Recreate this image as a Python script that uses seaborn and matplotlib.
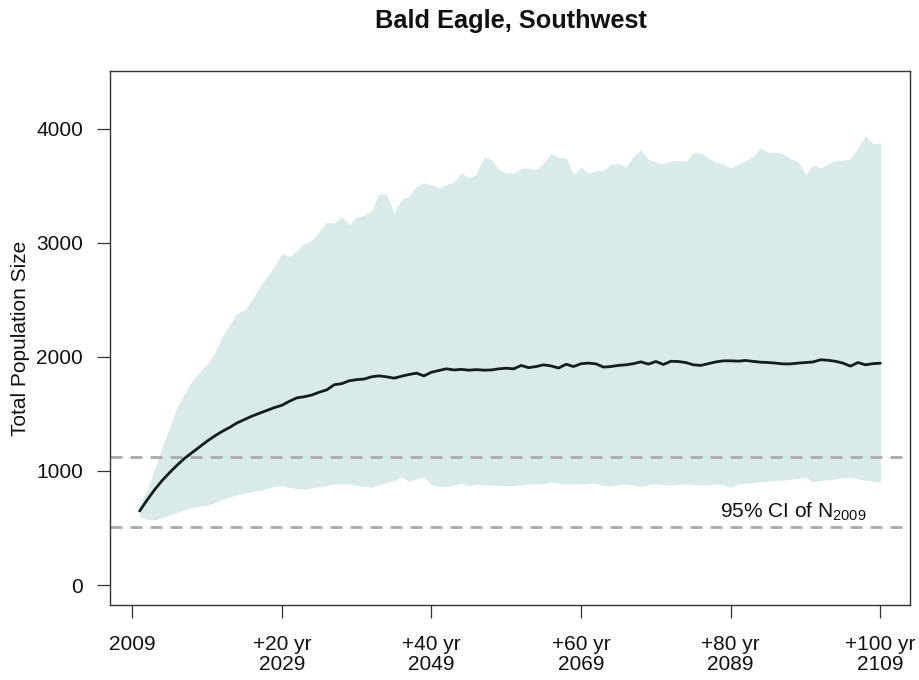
import numpy as np
import pandas as pd
import matplotlib
matplotlib.use("Agg")
import matplotlib.pyplot as plt
import seaborn as sns

# Projected total population, years after 2009
years_ahead = list(range(1, 101))

median_pop = [
    649, 745, 835, 915, 985, 1050, 1110, 1160, 1210, 1260,
    1305, 1345, 1380, 1420, 1450, 1480, 1505, 1530, 1555, 1575,
    1610, 1640, 1650, 1665, 1690, 1710, 1755, 1765, 1790, 1800,
    1805, 1825, 1833, 1825, 1813, 1830, 1845, 1857, 1833, 1865,
    1880, 1895, 1885, 1890, 1883, 1888, 1883, 1885, 1895, 1900,
    1895, 1924, 1905, 1915, 1930, 1920, 1902, 1935, 1915, 1940,
    1945, 1938, 1910, 1915, 1925, 1930, 1940, 1956, 1936, 1959,
    1933, 1961, 1959, 1950, 1930, 1925, 1940, 1955, 1965, 1965,
    1962, 1968, 1960, 1953, 1950, 1945, 1938, 1938, 1945, 1950,
    1955, 1974, 1970, 1961, 1945, 1918, 1950, 1930, 1940, 1944,
]

upper_pop = [
    720, 830, 1020, 1205, 1380, 1560, 1680, 1790, 1865, 1930,
    2030, 2170, 2280, 2380, 2410, 2500, 2610, 2700, 2790, 2904,
    2880, 2930, 2990, 3020, 3100, 3180, 3172, 3231, 3158, 3225,
    3240, 3280, 3430, 3425, 3260, 3380, 3406, 3495, 3524, 3508,
    3480, 3510, 3532, 3611, 3567, 3600, 3751, 3728, 3640, 3611,
    3611, 3652, 3655, 3640, 3699, 3781, 3748, 3743, 3602, 3661,
    3611, 3632, 3635, 3690, 3693, 3664, 3757, 3816, 3728, 3708,
    3690, 3713, 3722, 3710, 3787, 3787, 3743, 3705, 3690, 3655,
    3690, 3719, 3757, 3830, 3792, 3795, 3781, 3734, 3713, 3596,
    3684, 3655, 3690, 3719, 3722, 3734, 3830, 3939, 3868, 3877,
]

lower_pop = [
    600, 575, 570, 590, 615, 635, 660, 680, 690, 700,
    720, 750, 770, 790, 805, 818, 828, 845, 865, 871,
    855, 845, 840, 850, 862, 872, 885, 886, 886, 875,
    865, 857, 880, 900, 915, 945, 910, 930, 945, 880,
    865, 862, 878, 892, 871, 883, 880, 876, 874, 872,
    871, 878, 885, 886, 886, 906, 890, 886, 885, 886,
    892, 890, 872, 868, 878, 886, 875, 862, 880, 886,
    880, 877, 882, 886, 880, 877, 880, 883, 880, 857,
    886, 890, 898, 905, 910, 915, 920, 927, 935, 945,
    906, 915, 921, 932, 940, 945, 930, 918, 910, 901,
]

# 95% confidence interval of the 2009 population estimate
ci_2009 = [509, 1123]

tick_years = [0, 20, 40, 60, 80, 100]
tick_labels = ["2009", "+20 yr\n2029", "+40 yr\n2049", "+60 yr\n2069",
               "+80 yr\n2089", "+100 yr\n2109"]
y_ticks = [0, 1000, 2000, 3000, 4000]

df = pd.DataFrame({"t": years_ahead, "median": median_pop,
                   "lo": lower_pop, "hi": upper_pop})

sns.set_theme(style="white")
plt.rcParams["font.family"] = ["Liberation Sans", "DejaVu Sans"]

fig = plt.figure(figsize=(9.2, 6.8), dpi=100)
ax = fig.add_axes([110 / 920, 1 - 605 / 680, 800 / 920, (605 - 71) / 680])

ax.fill_between(df["t"], df["lo"], df["hi"], color="#d8ebea", lw=0, zorder=1)
for v in ci_2009:
    ax.axhline(v, color="#aaaaaa", lw=2, linestyle=(0, (4.3, 2.9)), zorder=2)
sns.lineplot(data=df, x="t", y="median", ax=ax, color="#0f1f1e", lw=2.0,
             zorder=3)

ax.text(98.2, 588, r"95% CI of N$\mathregular{_{2009}}$", ha="right",
        va="baseline", fontsize=15, color="#111111")

ax.set_xlim(-2.96, 103.96)
ax.set_ylim(-175, 4505)
ax.set_xticks(tick_years)
ax.set_xticklabels(tick_labels, fontsize=15, linespacing=1.05)
ax.set_yticks(y_ticks)
ax.set_yticklabels([str(v) for v in y_ticks], fontsize=15)
ax.tick_params(axis="both", direction="out", length=9.5, width=0.9,
               color="#333333", labelcolor="#111111", pad=10,
               bottom=True, left=True)
ax.tick_params(axis="x", pad=12)
ax.set_xlabel("")
ax.set_ylabel("Total Population Size", fontsize=15, color="#111111",
              labelpad=4)
for s in ax.spines.values():
    s.set_color("#333333")
    s.set_linewidth(1.0)

fig.suptitle("Bald Eagle, Southwest", x=511 / 920, y=1 - 21 / 680,
             va="center", fontsize=18.3, fontweight="bold", color="#111111")

fig.savefig("out.png", dpi=100)
